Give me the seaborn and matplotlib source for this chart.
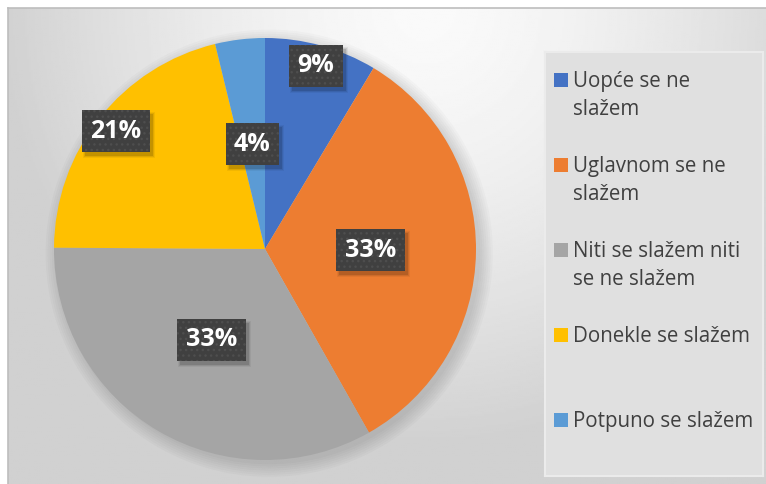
import numpy as np
import matplotlib.pyplot as plt
from matplotlib.patches import Circle, Rectangle
from matplotlib.transforms import IdentityTransform
import seaborn as sns

# survey answers (share of respondents, %)
categories = ['Uopće se ne\nslažem', 'Uglavnom se ne\nslažem',
              'Niti se slažem niti\nse ne slažem', 'Donekle se slažem',
              'Potpuno se slažem']
shares = [8.6, 33.2, 33.3, 21.1, 3.8]
colors = sns.color_palette(['#4472C4', '#ED7D31', '#A5A5A5', '#FFC000', '#5B9BD5'])
label_dist = [0.9, 0.5, 0.5, 0.9, 0.5]

sns.set_style('white')
plt.rcParams['font.family'] = ['Open Sans', 'DejaVu Sans']

W, H = 766, 484
fig = plt.figure(figsize=(W / 100, H / 100), dpi=100)

# chart area with soft grey gradient (light near top middle)
bg = fig.add_axes([8 / W, 0, (W - 8) / W, (H - 8) / H])
yy, xx = np.mgrid[0:1:240j, 0:1:380j]
dist = np.sqrt(((xx - 0.55) * 1.8) ** 2 + (yy * 1.1) ** 2)
shade = 0.98 - 0.16 * np.clip(dist, 0, 1) ** 1.5
bg.imshow(shade, cmap='gray', vmin=0, vmax=1, aspect='auto', extent=[0, 1, 0, 1])
bg.set_xticks([])
bg.set_yticks([])
for side, sp in bg.spines.items():
    sp.set_color('#bdbdbd')
    sp.set_linewidth(1.2)
    if side in ('right', 'bottom'):
        sp.set_visible(False)

# pie
ax = fig.add_axes([54 / W, (H - 460) / H, 422 / W, 422 / H])
for r in np.linspace(1.0, 1.06, 7):
    ax.add_patch(Circle((0.02, -0.02), r, color='black', alpha=0.02, lw=0, clip_on=False, zorder=0))
wedges, _ = ax.pie(shares, colors=colors, startangle=90, counterclock=False,
                   wedgeprops=dict(linewidth=0, zorder=1))
ax.set_xlim(-1, 1)
ax.set_ylim(-1, 1)

labels = []
for w, s, d in zip(wedges, shares, label_dist):
    ang = np.deg2rad((w.theta1 + w.theta2) / 2)
    t = ax.text(d * np.cos(ang), d * np.sin(ang), f'{round(s)}%', ha='center', va='center',
                color='white', fontsize=18, fontweight='bold', zorder=5,
                bbox=dict(boxstyle='square,pad=0.34', facecolor='#404040',
                          edgecolor='#4e4e4e', hatch='...', linewidth=0))
    labels.append(t)

# soft drop shadow under the label boxes
fig.canvas.draw()
renderer = fig.canvas.get_renderer()
for t in labels:
    bb = t.get_bbox_patch().get_window_extent(renderer)
    for grow, a in [(4, 0.05), (2, 0.08), (0, 0.12)]:
        ax.add_patch(Rectangle((bb.x0 + 3 - grow / 2, bb.y0 - 4 - grow / 2), bb.width + grow,
                               bb.height + grow, transform=IdentityTransform(),
                               facecolor='black', alpha=a, lw=0, zorder=4, clip_on=False))

# legend panel
lg = fig.add_axes([545 / W, (H - 476) / H, 218 / W, 424 / H])
lg.set_xlim(545, 763)
lg.set_ylim(476, 52)
lg.set_facecolor('#e0e0e0')
lg.set_xticks([])
lg.set_yticks([])
for sp in lg.spines.values():
    sp.set_color('#ebebeb')
    sp.set_linewidth(1.5)
ys = 80 + 85 * np.arange(len(categories))
lg.scatter([561] * len(categories), ys, marker='s', s=95, c=colors, linewidths=0)
for y, label in zip(ys, categories):
    for k, line in enumerate(label.split('\n')):
        lg.text(573, y + 6.5 + 28 * k, line, va='baseline', fontsize=14.8, color='#404040')

fig.savefig('out.png', dpi=100)
